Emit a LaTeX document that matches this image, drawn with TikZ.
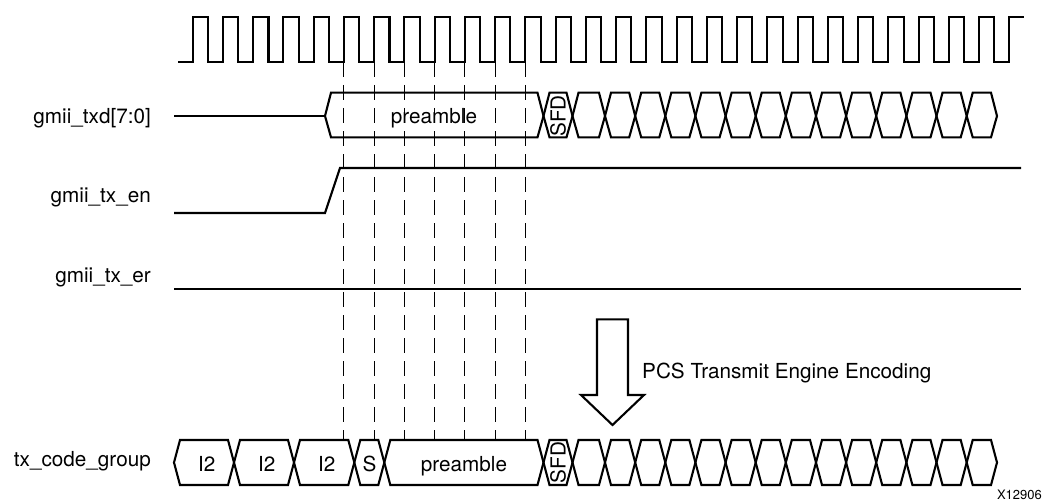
\documentclass[tikz,border=0pt]{standalone}
\usepackage{fontspec}
\setmainfont{TeX Gyre Heros}
\begin{document}
\begin{tikzpicture}[x=1pt,y=-1pt]
\tikzset{
  sig/.style={line width=2.1pt, line join=miter},
  guide/.style={line width=1pt, dash pattern=on 15pt off 8pt},
  lbl/.style={font=\fontsize{20.7}{24}\selectfont, inner sep=0pt},
  tiny/.style={font=\fontsize{13}{15}\selectfont, inner sep=0pt},
}
\useasboundingbox (0,0) rectangle (1043,500);
% clock
\draw[sig] (178,62) foreach \k in {0,...,26} { -- ({192.7+30.244*\k},62) -- ({192.7+30.244*\k},17) -- ({208+30.244*\k},17) -- ({208+30.244*\k},62) } -- (1009.3,62) -- (1009.3,17) -- (1024,17);
% guide lines
\foreach \k in {5,...,11}
  \draw[guide] ({192.7+30.244*\k},62) -- ({192.7+30.244*\k},440);
% gmii_txd
\draw[sig] (174,116) -- (325,116);
\foreach \a/\b in {325/543.5,543.5/572.5,572.5/605,605/635.2,635.2/665.3,665.3/695.4,695.4/725.6,725.6/755.7,755.7/785.8,785.8/816,816/846.1,846.1/876.2,876.2/906.4,906.4/936.5,936.5/966.7,966.7/997}
  \draw[sig] (\a,116) -- (\a+6,92.7) -- (\b-6,92.7) -- (\b,116) -- (\b-6,137.3) -- (\a+6,137.3) -- cycle;
% gmii_tx_en
\draw[sig] (174,213) -- (325,213) -- (340,168) -- (1021,168);
% gmii_tx_er
\draw[sig] (174,289) -- (1021,289);
% tx_code_group
\foreach \a/\b in {174/234,234/294,294/354.3,354.3/384.3,384.3/543.5,543.5/572.5,572.5/605,605/635.2,635.2/665.3,665.3/695.4,695.4/725.6,725.6/755.7,755.7/785.8,785.8/816,816/846.1,846.1/876.2,876.2/906.4,906.4/936.5,936.5/966.7,966.7/997}
  \draw[sig] (\a,462.5) -- (\a+6,440) -- (\b-6,440) -- (\b,462.5) -- (\b-6,485) -- (\a+6,485) -- cycle;
% arrow
\draw[sig] (597,319.3) -- (628,319.3) -- (628,395) -- (644,395) -- (612.5,425) -- (581,395) -- (597,395) -- cycle;
% labels
\node[lbl, anchor=base east] (ltxd) at (151,123.3) {gmii\_txd[7:0]};
\node[lbl, anchor=base east] (len) at (151,202.7) {gmii\_tx\_en};
\node[lbl, anchor=base east] (ler) at (151,282.7) {gmii\_tx\_er};
\node[lbl, anchor=base east] (lcg) at (151,466) {tx\_code\_group};
\node[lbl, anchor=base] (pre1) at (434,123.3) {preamble};
\node[lbl, anchor=center, rotate=90] (sfd1) at (558,116) {SFD};
\node[lbl, anchor=base] (i2a) at (206.7,471) {I2};
\node[lbl, anchor=base] (i2b) at (266.7,471) {I2};
\node[lbl, anchor=base] (i2c) at (326.7,471) {I2};
\node[lbl, anchor=base] (ss) at (369.5,471) {S};
\node[lbl, anchor=base] (pre2) at (464,471) {preamble};
\node[lbl, anchor=center, rotate=90] (sfd2) at (558,462.5) {SFD};
\node[lbl, anchor=base west] (pcs) at (642,378.3) {PCS Transmit Engine Encoding};
\node[tiny, anchor=base east] (fig) at (1042,499) {X12906};
\end{tikzpicture}
\end{document}
